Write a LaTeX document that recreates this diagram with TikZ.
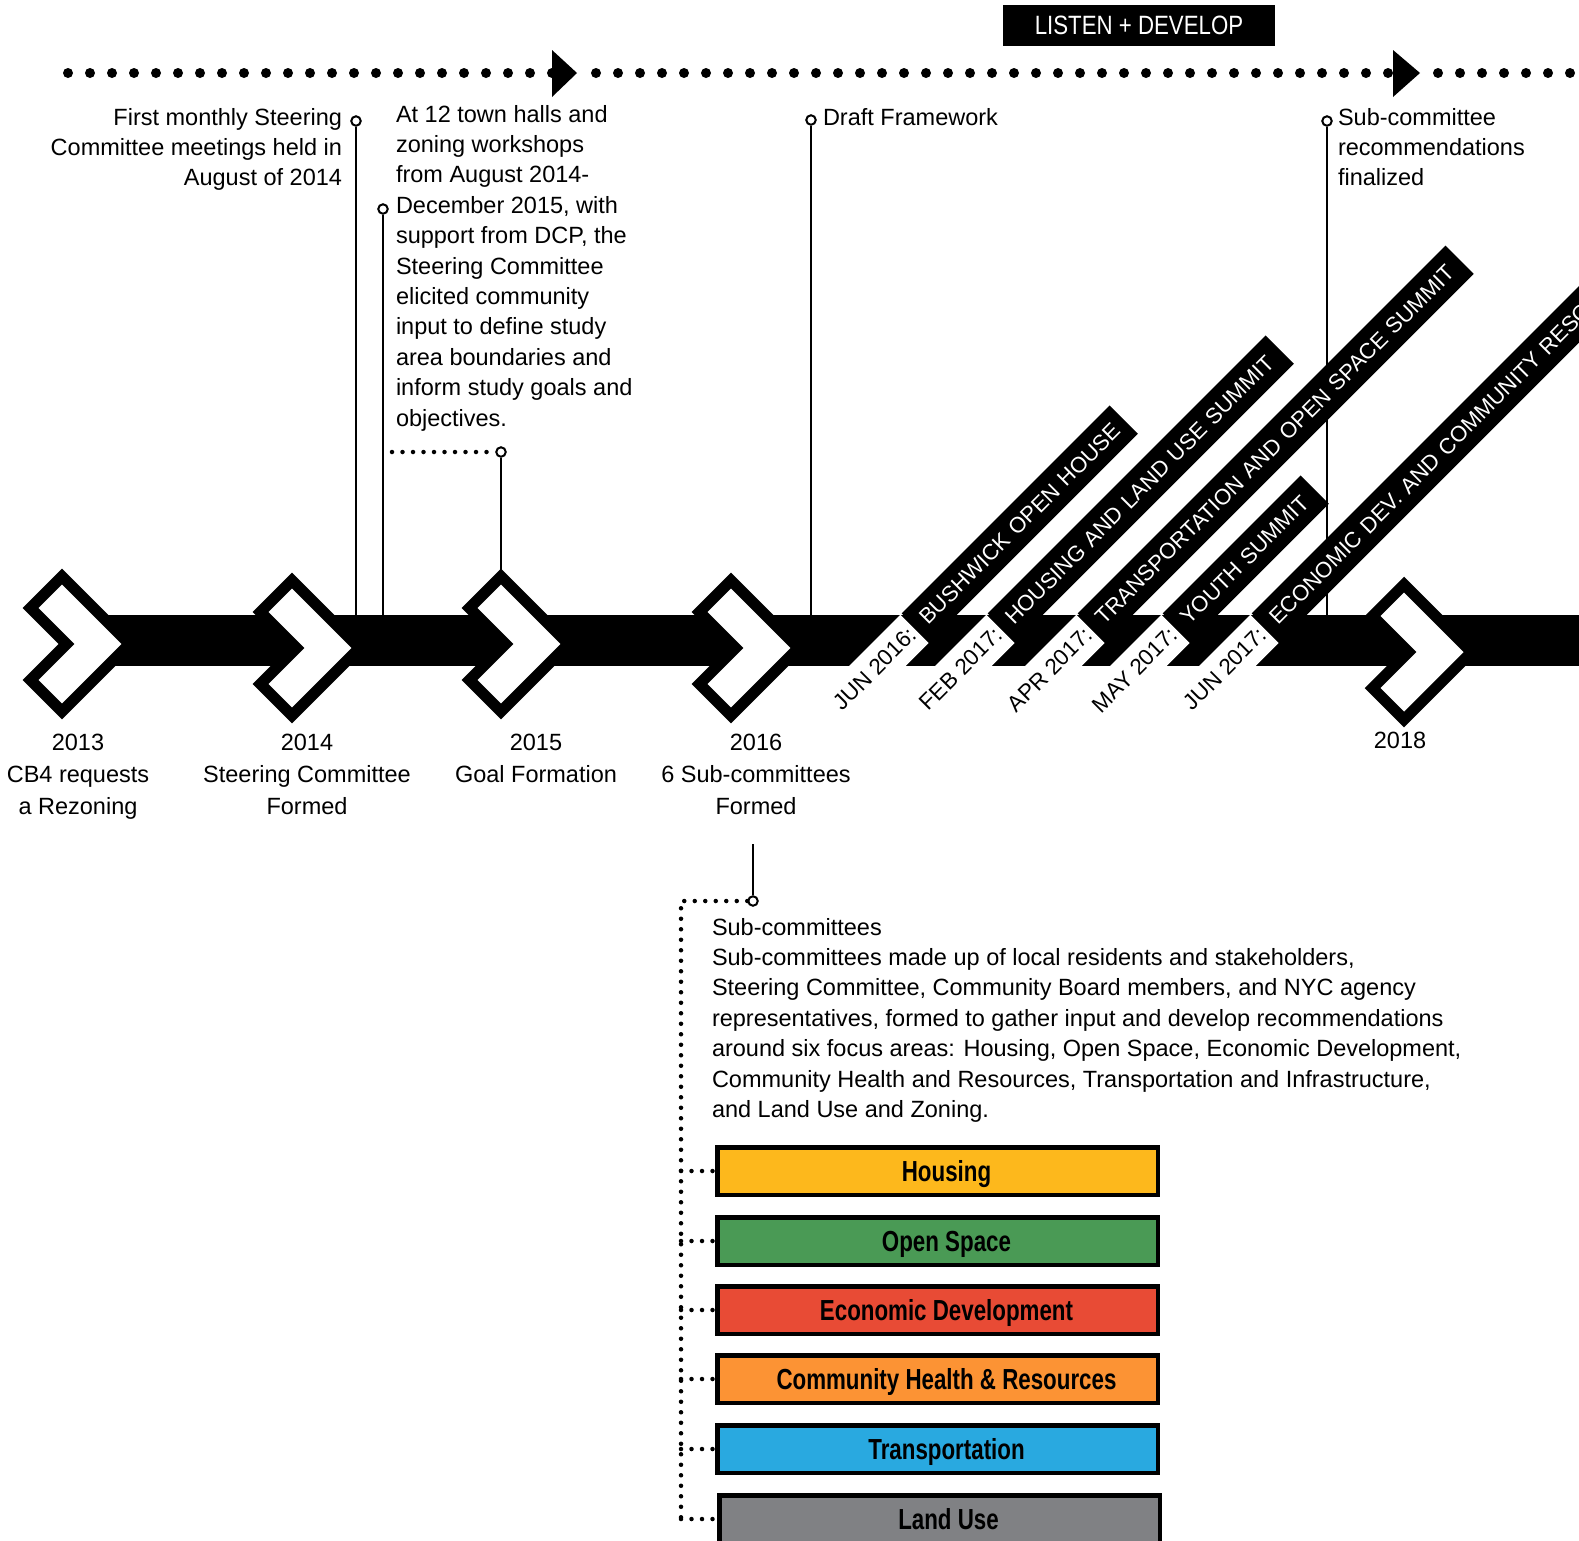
\documentclass[tikz,border=0pt]{standalone}
\usepackage{fontspec}
\setmainfont{Liberation Sans}
\newfontfamily\strettobold[FakeStretch=0.77]{Liberation Sans Bold}
\newfontfamily\stretto[FakeStretch=0.84]{Liberation Sans}

\definecolor{giallo}{HTML}{FDB81C}
\definecolor{verde}{HTML}{4A9A55}
\definecolor{rosso}{HTML}{E84B35}
\definecolor{arancio}{HTML}{FC9334}
\definecolor{azzurro}{HTML}{29A9E0}
\definecolor{grigio}{HTML}{808184}

\begin{document}
\begin{tikzpicture}[x=1pt, y=-1pt, line width=2pt,
    testo/.style={font=\fontsize{23.5}{30.4}\selectfont, inner sep=0pt},
    anno/.style={font=\fontsize{23.5}{32.4}\selectfont, inner sep=0pt, align=center, anchor=base},
    pallino/.style={circle, draw, fill=white, line width=2pt, inner sep=0pt, minimum size=9.5pt},
    stelo/.style={line width=2pt},
    grossi/.style={line width=10pt, line cap=round, dash pattern=on 0pt off 22pt},
    puntini/.style={line width=4.5pt, line cap=round, dash pattern=on 0pt off 10.5pt},
    fascia/.style={rotate=45, fill=black, text=white, inner xsep=10pt, inner ysep=0pt,
        minimum height=40pt, text height=15.8pt, text depth=0pt, align=left,
        font=\fontsize{22}{22}\selectfont},
    etichetta/.style={rotate=45, fill=white, text=black, inner xsep=3pt, inner ysep=0pt,
        minimum height=40pt, text height=15.8pt, text depth=0pt,
        font=\fontsize{22.5}{22.5}\selectfont},
    riquadro/.style={draw=black, line width=4.5pt, minimum width=440.5pt, minimum height=47.5pt,
        inner sep=0pt, text height=21pt, text depth=0pt,
        execute at begin node={\hspace*{18pt}},
        font=\strettobold\fontsize{29}{29}\selectfont}]

    % Comando per una tappa (freccia a chevron): centro x, centro y
    \newcommand{\tappa}[2]{
        \draw[line width=11pt, fill=white] (#1,#2-67.5) -- (#1+67.5,#2) -- (#1,#2+67.5)
            -- (#1-31.5,#2+36) -- (#1+4.5,#2) -- (#1-31.5,#2-36) -- cycle;
    }

    % Comando per un evento: punto d'attacco x, lunghezza testo, data, titolo
    \newcommand{\evento}[4]{
        \node[etichetta, anchor=south east] at (#1,643) {#3};
        \node[fascia, anchor=south west, text width=#2pt] at (#1,643) {#4};
    }

    \useasboundingbox (0,0) rectangle (1579,1540);
    \clip (0,0) rectangle (1579,1540);

    % -- Linea tratteggiata in alto con le frecce --
    \draw[grossi] (68,73) -- (552,73);
    \fill (552,50) -- (577,73) -- (552,97) -- cycle;
    \draw[grossi] (596,73) -- (1393,73);
    \fill (1393,50) -- (1420,73) -- (1393,97) -- cycle;
    \draw[grossi] (1438,73) -- (1590,73);

    \node[fill=black, text=white, font=\stretto\fontsize{26.5}{26.5}\selectfont,
          minimum width=272pt, minimum height=41pt, inner sep=0pt] (fase) at (1139,25.5) {LISTEN + DEVELOP};

    % -- Steli con i pallini --
    \node[pallino] (p1) at (356,121) {};
    \coordinate (b1) at (356,615);
    \draw[stelo] (p1) -- (b1);

    \node[pallino] (p2) at (383,209) {};
    \coordinate (b2) at (383,615);
    \draw[stelo] (p2) -- (b2);

    \node[pallino] (p3) at (501,452) {};
    \coordinate (b3) at (501,570);
    \coordinate (d3) at (392,452);
    \draw[stelo] (p3) -- (b3);
    \draw[puntini] (d3) -- (p3);

    \node[pallino] (p4) at (811,120) {};
    \coordinate (b4) at (811,615);
    \draw[stelo] (p4) -- (b4);

    \node[pallino] (p5) at (1327,121) {};
    \coordinate (b5) at (1327,615);
    \draw[stelo] (p5) -- (b5);

    % Testi in alto (ancorati alla linea di base dell'ultima riga)
    \node[testo, align=right, anchor=base east] (t1) at (343,185.8)
        {First monthly Steering\\Committee meetings held in\\August of 2014};
    \node[testo, align=left, anchor=base west] (t2) at (395,426)
        {At 12 town halls and\\zoning workshops\\from August 2014-\\December 2015, with\\support from DCP, the\\Steering Committee\\elicited community\\input to define study\\area boundaries and\\inform study goals and\\objectives.};
    \node[testo, anchor=base west] (t4) at (822,125) {Draft Framework};
    \node[testo, align=left, anchor=base west] (t5) at (1337,185.8)
        {Sub-committee\\recommendations\\finalized};

    % -- Barra della linea del tempo --
    \fill (62,615) rectangle (1590,666);

    \tappa{62}{644}
    \tappa{292}{648}
    \tappa{501}{644}
    \tappa{731}{648}
    \tappa{1404}{652}

    % Eventi in diagonale
    \evento{930}{274}{JUN 2016:}{BUSHWICK OPEN HOUSE}
    \evento{1016}{373}{FEB 2017:}{HOUSING AND LAND USE SUMMIT}
    \evento{1106}{500}{APR 2017:}{TRANSPORTATION AND OPEN SPACE SUMMIT}
    \evento{1191}{175}{MAY 2017:}{YOUTH SUMMIT}
    \evento{1280}{700}{JUN 2017:}{ECONOMIC DEV. AND COMMUNITY RESO}

    % Etichette degli anni
    \node[anno] (a13) at (78,814.8) {2013\\CB4 requests\\a Rezoning};
    \node[anno] (a14) at (307,814.8) {2014\\Steering Committee\\Formed};
    \node[anno] (a15) at (536,782.4) {2015\\Goal Formation};
    \node[anno] (a16) at (756,814.8) {2016\\6 Sub-committees\\Formed};
    \node[anno] (a18) at (1400,748) {2018};

    % -- Parte bassa: sottocommissioni --
    \coordinate (c6) at (753,844);
    \node[pallino] (p6) at (753,901) {};
    \draw[stelo] (c6) -- (p6);

    \node[testo, align=left, anchor=base west] (sotto) at (711,1117.4)
        {Sub-committees\\Sub-committees made up of local residents and stakeholders,\\Steering Committee, Community Board members, and NYC agency\\representatives, formed to gather input and develop recommendations\\around six focus areas: Housing, Open Space, Economic Development,\\Community Health and Resources, Transportation and Infrastructure,\\and Land Use and Zoning.};

    \node[riquadro, fill=giallo] (housing) at (937.5,1171) {Housing};
    \node[riquadro, fill=verde] (openspace) at (937.5,1241) {Open Space};
    \node[riquadro, fill=rosso] (economic) at (937.5,1310) {Economic Development};
    \node[riquadro, fill=arancio] (health) at (937.5,1379) {Community Health \& Resources};
    \node[riquadro, fill=azzurro] (transport) at (937.5,1449) {Transportation};
    \node[riquadro, fill=grigio] (landuse) at (939.5,1519) {Land Use};

    \coordinate (angolo) at (681,901);
    \draw[puntini] (p6) -- (angolo) -- (angolo |- landuse.west);
    \foreach \r in {housing, openspace, economic, health, transport, landuse}
        \draw[puntini] (angolo |- \r.west) -- (\r.west);

\end{tikzpicture}
\end{document}
